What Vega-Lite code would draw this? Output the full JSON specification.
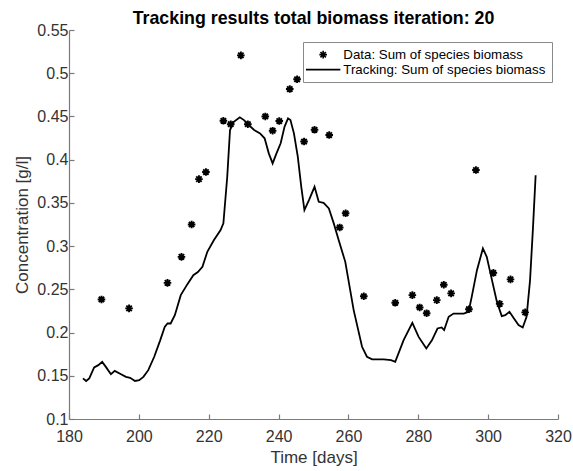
{
  "$schema": "https://vega.github.io/schema/vega-lite/v6.json",
  "autosize": {"type": "none"},
  "padding": {"left": 69, "top": 30, "right": 15, "bottom": 52},
  "width": 489,
  "height": 389,
  "background": "white",
  "config": {
    "view": {"stroke": null},
    "font": "Liberation Sans",
    "axis": {
      "grid": false,
      "domainColor": "#7a7a7a",
      "domainWidth": 1.2,
      "tickColor": "#7a7a7a",
      "tickWidth": 1.2,
      "tickSize": -5,
      "labelFont": "Liberation Sans",
      "labelFontSize": 16,
      "labelColor": "#333333",
      "titleFont": "Liberation Sans",
      "titleFontSize": 17,
      "titleFontWeight": "normal",
      "titleColor": "#333333"
    }
  },
  "title": {
    "text": "Tracking results total biomass iteration: 20",
    "font": "Liberation Sans",
    "fontSize": 17.8,
    "fontWeight": "bold",
    "color": "#000000",
    "anchor": "middle",
    "offset": -5.5
  },
  "datasets": {
    "track": [
      {"day": 184, "conc": 0.147}, {"day": 184.9, "conc": 0.144}, {"day": 185.8, "conc": 0.147},
      {"day": 187.2, "conc": 0.1596}, {"day": 188.4, "conc": 0.1623}, {"day": 189.5, "conc": 0.1661},
      {"day": 190.6, "conc": 0.16}, {"day": 192, "conc": 0.1518}, {"day": 193.1, "conc": 0.1557},
      {"day": 194.9, "conc": 0.1518}, {"day": 196.3, "conc": 0.1487}, {"day": 197.5, "conc": 0.1476},
      {"day": 198.9, "conc": 0.144}, {"day": 200.1, "conc": 0.145}, {"day": 201.3, "conc": 0.1487},
      {"day": 202.7, "conc": 0.1565}, {"day": 204.4, "conc": 0.172}, {"day": 206.1, "conc": 0.191},
      {"day": 207.4, "conc": 0.2066}, {"day": 208.2, "conc": 0.2105}, {"day": 209.1, "conc": 0.2105},
      {"day": 210.3, "conc": 0.22}, {"day": 212, "conc": 0.2433}, {"day": 213.9, "conc": 0.256},
      {"day": 215.6, "conc": 0.2664}, {"day": 216.9, "conc": 0.27}, {"day": 218.2, "conc": 0.276},
      {"day": 219.6, "conc": 0.2934}, {"day": 221.5, "conc": 0.307}, {"day": 223.4, "conc": 0.3185},
      {"day": 224.2, "conc": 0.3263}, {"day": 225.3, "conc": 0.38}, {"day": 226.1, "conc": 0.4343},
      {"day": 227.2, "conc": 0.4439}, {"day": 228.9, "conc": 0.449}, {"day": 230.1, "conc": 0.4458},
      {"day": 231.5, "conc": 0.44}, {"day": 233, "conc": 0.4343}, {"day": 234.7, "conc": 0.4304},
      {"day": 236, "conc": 0.4247}, {"day": 237.2, "conc": 0.4073}, {"day": 238.3, "conc": 0.3957},
      {"day": 239.4, "conc": 0.4073}, {"day": 240.6, "conc": 0.419}, {"day": 241.7, "conc": 0.438},
      {"day": 242.7, "conc": 0.4478}, {"day": 243.4, "conc": 0.4458}, {"day": 244.4, "conc": 0.4304},
      {"day": 245.5, "conc": 0.4034}, {"day": 246.5, "conc": 0.3686}, {"day": 247.4, "conc": 0.3417},
      {"day": 248.7, "conc": 0.3532}, {"day": 250.3, "conc": 0.3686}, {"day": 251.5, "conc": 0.3513},
      {"day": 252.9, "conc": 0.35}, {"day": 254.4, "conc": 0.3436}, {"day": 255.8, "conc": 0.3263},
      {"day": 257.2, "conc": 0.307}, {"day": 259.1, "conc": 0.2818}, {"day": 261.5, "conc": 0.226},
      {"day": 263.9, "conc": 0.1835}, {"day": 265.3, "conc": 0.172}, {"day": 266.8, "conc": 0.169},
      {"day": 270.1, "conc": 0.169}, {"day": 272.2, "conc": 0.168}, {"day": 273.4, "conc": 0.1661},
      {"day": 275.8, "conc": 0.1912}, {"day": 278.3, "conc": 0.2112}, {"day": 280.1, "conc": 0.195},
      {"day": 282.3, "conc": 0.1816}, {"day": 283.9, "conc": 0.191}, {"day": 285.5, "conc": 0.2047},
      {"day": 286.7, "conc": 0.2059}, {"day": 287.4, "conc": 0.2028}, {"day": 288.7, "conc": 0.2182},
      {"day": 290.1, "conc": 0.222}, {"day": 293, "conc": 0.222}, {"day": 294.4, "conc": 0.224},
      {"day": 295.3, "conc": 0.2413}, {"day": 296.8, "conc": 0.2722}, {"day": 298.5, "conc": 0.2973},
      {"day": 299.6, "conc": 0.2876}, {"day": 301.1, "conc": 0.2607}, {"day": 302.5, "conc": 0.2356},
      {"day": 303.9, "conc": 0.219}, {"day": 304.9, "conc": 0.2201}, {"day": 306.1, "conc": 0.224},
      {"day": 307.2, "conc": 0.2175}, {"day": 308.7, "conc": 0.2086}, {"day": 309.9, "conc": 0.2059},
      {"day": 311, "conc": 0.2182}, {"day": 312, "conc": 0.2607}, {"day": 312.8, "conc": 0.3185},
      {"day": 313.6, "conc": 0.382}
    ],
    "obs": [
      {"day": 189.3, "conc": 0.2383, "series": "Data: Sum of species biomass"},
      {"day": 197.2, "conc": 0.228, "series": "Data: Sum of species biomass"},
      {"day": 208.2, "conc": 0.2575, "series": "Data: Sum of species biomass"},
      {"day": 212.2, "conc": 0.2876, "series": "Data: Sum of species biomass"},
      {"day": 215.1, "conc": 0.325, "series": "Data: Sum of species biomass"},
      {"day": 217.2, "conc": 0.3775, "series": "Data: Sum of species biomass"},
      {"day": 219.2, "conc": 0.3857, "series": "Data: Sum of species biomass"},
      {"day": 224.2, "conc": 0.445, "series": "Data: Sum of species biomass"},
      {"day": 226.3, "conc": 0.441, "series": "Data: Sum of species biomass"},
      {"day": 229.2, "conc": 0.5207, "series": "Data: Sum of species biomass"},
      {"day": 231.2, "conc": 0.441, "series": "Data: Sum of species biomass"},
      {"day": 236.2, "conc": 0.45, "series": "Data: Sum of species biomass"},
      {"day": 238.3, "conc": 0.4335, "series": "Data: Sum of species biomass"},
      {"day": 240.2, "conc": 0.4447, "series": "Data: Sum of species biomass"},
      {"day": 243.2, "conc": 0.4817, "series": "Data: Sum of species biomass"},
      {"day": 245.3, "conc": 0.493, "series": "Data: Sum of species biomass"},
      {"day": 247.3, "conc": 0.421, "series": "Data: Sum of species biomass"},
      {"day": 250.3, "conc": 0.4346, "series": "Data: Sum of species biomass"},
      {"day": 254.5, "conc": 0.4285, "series": "Data: Sum of species biomass"},
      {"day": 257.5, "conc": 0.3216, "series": "Data: Sum of species biomass"},
      {"day": 259.2, "conc": 0.338, "series": "Data: Sum of species biomass"},
      {"day": 264.4, "conc": 0.242, "series": "Data: Sum of species biomass"},
      {"day": 273.4, "conc": 0.2344, "series": "Data: Sum of species biomass"},
      {"day": 278.3, "conc": 0.2433, "series": "Data: Sum of species biomass"},
      {"day": 280.4, "conc": 0.229, "series": "Data: Sum of species biomass"},
      {"day": 282.4, "conc": 0.2224, "series": "Data: Sum of species biomass"},
      {"day": 285.3, "conc": 0.2375, "series": "Data: Sum of species biomass"},
      {"day": 287.3, "conc": 0.2553, "series": "Data: Sum of species biomass"},
      {"day": 289.4, "conc": 0.2453, "series": "Data: Sum of species biomass"},
      {"day": 294.5, "conc": 0.227, "series": "Data: Sum of species biomass"},
      {"day": 296.5, "conc": 0.388, "series": "Data: Sum of species biomass"},
      {"day": 301.5, "conc": 0.269, "series": "Data: Sum of species biomass"},
      {"day": 303.3, "conc": 0.2332, "series": "Data: Sum of species biomass"},
      {"day": 306.4, "conc": 0.2615, "series": "Data: Sum of species biomass"},
      {"day": 310.6, "conc": 0.2233, "series": "Data: Sum of species biomass"}
    ]
  },
  "encoding": {
    "x": {
      "field": "day", "type": "quantitative",
      "scale": {"domain": [180, 320], "nice": false, "zero": false},
      "axis": {"title": "Time [days]", "values": [180, 200, 220, 240, 260, 280, 300, 320], "labelPadding": 14, "titlePadding": 5, "labelFlush": false}
    },
    "y": {
      "field": "conc", "type": "quantitative",
      "scale": {"domain": [0.1, 0.55], "nice": false, "zero": false},
      "axis": {"title": "Concentration [g/l]", "values": [0.1, 0.15, 0.2, 0.25, 0.3, 0.35, 0.4, 0.45, 0.5, 0.55], "format": ".2~f", "labelPadding": 6, "titlePadding": 5, "labelFlush": false}
    }
  },
  "layer": [
    {
      "data": {"name": "track"},
      "mark": {"type": "line", "color": "#000000", "strokeWidth": 1.8}
    },
    {
      "data": {"name": "obs"},
      "mark": {"type": "point", "filled": false, "color": "#000000", "strokeWidth": 1.9, "size": 100, "opacity": 1},
      "encoding": {
        "shape": {
          "field": "series", "type": "nominal",
          "scale": {
            "domain": ["Data: Sum of species biomass", "Tracking: Sum of species biomass"],
            "range": ["M-0.76,0H0.76M0,-0.76V0.76M-0.54,-0.54L0.54,0.54M-0.54,0.54L0.54,-0.54", "M-3.44,0H3.44"]
          },
          "legend": {
            "title": null,
            "orient": "none",
            "legendX": 234,
            "legendY": 12,
            "padding": 6,
            "strokeColor": "#8a8a8a",
            "fillColor": "#ffffff",
            "symbolSize": 100,
            "symbolOffset": 7.5,
            "symbolStrokeWidth": 1.6,
            "symbolStrokeColor": "#000000",
            "symbolFillColor": "transparent",
            "labelFont": "Liberation Sans",
            "labelFontSize": 13.3,
            "labelColor": "#000000",
            "labelOffset": 13.5,
            "rowPadding": 0,
            "labelLimit": 400
          }
        }
      }
    }
  ]
}
